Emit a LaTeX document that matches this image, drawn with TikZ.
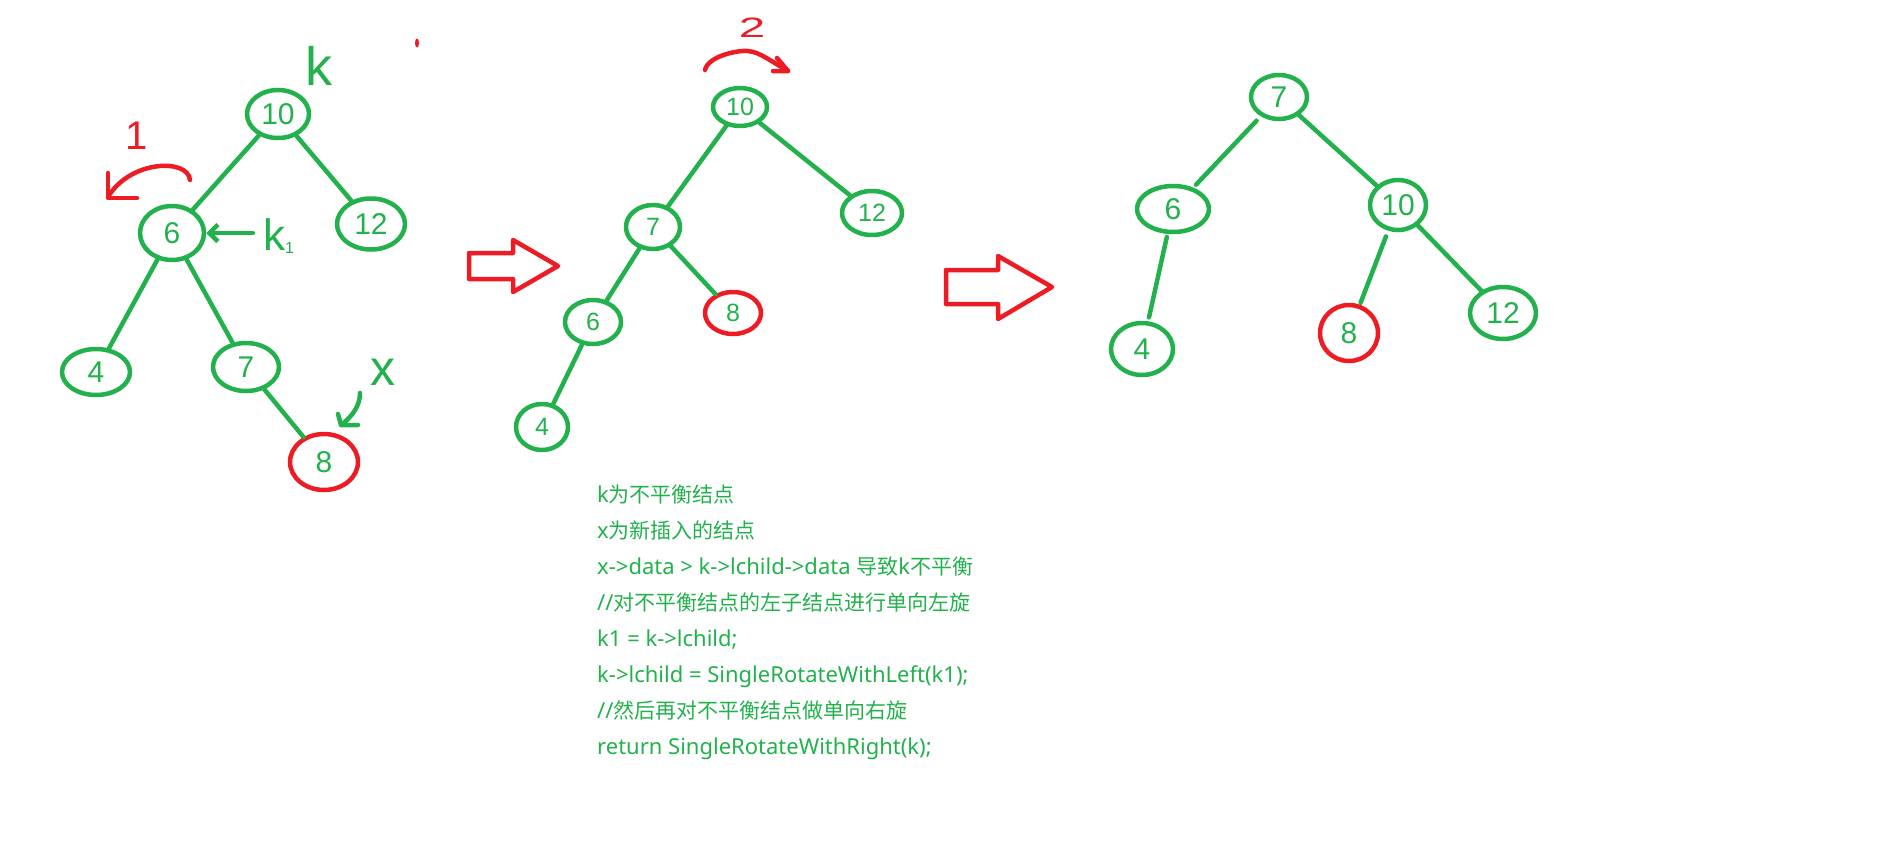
\documentclass[tikz,border=0pt]{standalone}
\usepackage{fontspec}
\setmainfont{Liberation Sans}
\newfontfamily\cjkfont{Noto Sans CJK SC}
\newfontfamily\latinfont{Noto Sans}
\newcommand{\zh}[1]{{\cjkfont\fontsize{21}{21}\selectfont #1}}
\usetikzlibrary{shapes.geometric,arrows.meta}
\definecolor{inkgreen}{HTML}{22B14C}
\definecolor{inkred}{HTML}{ED1C24}

\begin{document}
\begin{tikzpicture}[x=1pt,y=-1pt,
  pen/.style={line width=4.5pt, line cap=round, line join=round},
  gpen/.style={pen, draw=inkgreen},
  rpen/.style={pen, draw=inkred},
  tnode/.style={ellipse, gpen, inner sep=0pt, text=inkgreen,
    font=\fontsize{30}{30}\selectfont},
  snode/.style={tnode, font=\fontsize{25}{25}\selectfont},
  newnode/.style={draw=inkred},
  edge/.style={gpen},
  note/.style={anchor=base west, inner sep=0pt, text=inkgreen,
    font=\latinfont\fontsize{22}{22}\selectfont},
  bigarrow/.style={rpen, fill=white}
]
\useasboundingbox (0,0) rectangle (1904,844);

% ---------- first tree: before the left rotation ----------
\node[tnode, minimum width=62pt, minimum height=48pt] (a10) at (278,114) {10};
\node[tnode, minimum width=64pt, minimum height=54pt] (a6)  at (172,233) {6};
\node[tnode, minimum width=68pt, minimum height=51pt] (a12) at (371,224) {12};
\node[tnode, minimum width=68pt, minimum height=46pt] (a4)  at (96,372)  {4};
\node[tnode, minimum width=66pt, minimum height=48pt] (a7)  at (246,367) {7};
\node[tnode, newnode, minimum width=68pt, minimum height=56pt] (a8) at (324,462) {8};

\draw[edge] (a10) -- (a6);
\draw[edge] (a10) -- (a12);
\draw[edge] (a6) -- (a4);
\draw[edge] (a6) -- (a7);
\draw[edge] (a7) -- (a8);

% labels k, k1, x
\node[text=inkgreen, font=\fontsize{54}{54}\selectfont, inner sep=0pt] (klab) at (319,66) {k};
\node[text=inkgreen, font=\fontsize{44}{44}\selectfont, inner sep=0pt, anchor=west] (k1lab) at (263,236)
  {k\raisebox{-3pt}{\fontsize{16}{16}\selectfont 1}};
\coordinate (k1tail) at (253,233);
\draw[gpen, -{Straight Barb[angle=90:12pt]}] (k1tail) -- (a6.east);

\node[text=inkgreen, font=\fontsize{50}{50}\selectfont, inner sep=0pt] (xlab) at (383,372) {x};
\coordinate (xtail) at (360,393);
\coordinate (xtip) at (341,425);
\draw[gpen] (xtail) .. controls (360,405) and (353,416) .. (xtip);
\draw[gpen] (338,414) -- (xtip) -- (358,425);

% rotation mark 1
\node[text=inkred, font=\fontsize{40}{40}\selectfont, inner sep=0pt] (one) at (137,136) {1};
\coordinate (r1start) at (190,180);
\coordinate (r1end) at (108,197);
\draw[rpen] (r1start) .. controls (188,158) and (130,160) .. (r1end);
\draw[rpen] (108,173) |- (137,198);

% stray ink dot
\fill[inkred] (417,43) ellipse (2pt and 4.5pt);

% ---------- block arrow 1 ----------
\draw[bigarrow] (469,253) -- (513,253) -- (513,240) -- (558,266) -- (513,292) -- (513,279) -- (469,279) -- cycle;

% ---------- second tree: after the left rotation ----------
\node[snode, minimum width=54pt, minimum height=38pt] (b10) at (740,107) {10};
\node[snode, minimum width=60pt, minimum height=44pt] (b12) at (872,213) {12};
\node[snode, minimum width=54pt, minimum height=44pt] (b7)  at (653,227) {7};
\node[snode, minimum width=56pt, minimum height=44pt] (b6)  at (593,322) {6};
\node[snode, newnode, minimum width=56pt, minimum height=42pt] (b8) at (733,313) {8};
\node[snode, minimum width=52pt, minimum height=46pt] (b4)  at (542,427) {4};

\draw[edge] (b10) -- (b7);
\draw[edge] (b10) -- (b12);
\draw[edge] (b7) -- (b6);
\draw[edge] (b7) -- (b8);
\draw[edge] (b6) -- (b4);

% rotation mark 2
\node[text=inkred, font=\fontsize{28}{28}\selectfont, inner sep=0pt, xscale=1.7] (two) at (752,28) {2};
\coordinate (r2start) at (705,70);
\coordinate (r2tip) at (788,71);
\draw[rpen] (r2start) .. controls (708,56) and (738,50) .. (748,51) .. controls (760,52) and (772,62) .. (r2tip);
\draw[rpen] (777,58) -- (r2tip) -- (773,71);

% ---------- block arrow 2 ----------
\draw[bigarrow] (946,270) -- (998,270) -- (998,256) -- (1052,287) -- (998,319) -- (998,304) -- (946,304) -- cycle;

% ---------- third tree: after the right rotation ----------
\node[tnode, minimum width=56pt, minimum height=44pt] (c7)  at (1279,97)  {7};
\node[tnode, minimum width=72pt, minimum height=46pt] (c6)  at (1173,209) {6};
\node[tnode, minimum width=56pt, minimum height=50pt] (c10) at (1398,205) {10};
\node[tnode, minimum width=62pt, minimum height=52pt] (c4)  at (1142,349) {4};
\node[tnode, newnode, minimum width=58pt, minimum height=56pt] (c8) at (1349,333) {8};
\node[tnode, minimum width=66pt, minimum height=52pt] (c12) at (1503,313) {12};

\draw[edge, shorten <=6pt, shorten >=4pt] (c7) -- (c6);
\draw[edge] (c7) -- (c10);
\draw[edge, shorten <=3pt, shorten >=4pt] (c6) -- (c4);
\draw[edge, shorten <=6pt, shorten >=2pt] (c10) -- (c8);
\draw[edge] (c10) -- (c12);

% ---------- notes ----------
\node[note] (t1) at (597,502) {k\zh{为不平衡结点}};
\node[note] (t2) at (597,538) {x\zh{为新插入的结点}};
\node[note] (t3) at (597,574) {x->data > k->lchild->data \zh{导致}k\zh{不平衡}};
\node[note] (t4) at (597,610) {//\zh{对不平衡结点的左子结点进行单向左旋}};
\node[note] (t5) at (597,646) {k1 = k->lchild;};
\node[note] (t6) at (597,682) {k->lchild = SingleRotateWithLeft(k1);};
\node[note] (t7) at (597,718) {//\zh{然后再对不平衡结点做单向右旋}};
\node[note] (t8) at (597,754) {return SingleRotateWithRight(k);};
\end{tikzpicture}
\end{document}
